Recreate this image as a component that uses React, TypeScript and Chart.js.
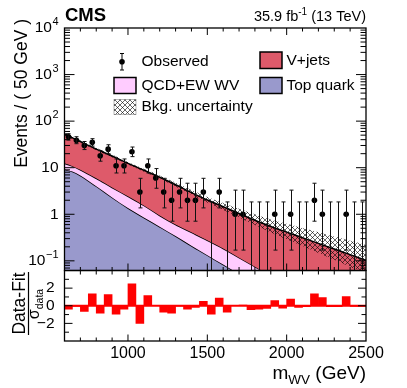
import React, { useEffect, useRef } from "react";
import { Chart, registerables } from "chart.js";

Chart.register(...registerables);

// ---------- data ----------
const binCenters = [625, 675, 725, 775, 825, 875, 925, 975, 1025, 1075, 1125, 1175, 1225, 1275, 1325, 1375, 1425, 1475, 1525, 1575, 1625, 1675, 1725, 1775, 1825, 1875, 1925, 1975, 2025, 2075, 2125, 2175, 2225, 2275, 2325, 2375, 2425, 2475];
const observed = [46, 39, 30, 35, 18, 25, 11, 11, 22, 3, 11, 6, 3, 2, 3, 2, 2, 3, 0, 3, 0, 1, 1, 0, 0, 0, 1, 0, 1, 0, 0, 2, 1, 0, 0, 1, 0, 0];
const obsLow = [39.2, 32.8, 24.5, 29.1, 13.8, 20.0, 7.7, 7.7, 17.3, 1.37, 7.7, 3.62, 1.37, 0.71, 1.37, 0.71, 0.71, 1.37, 0, 1.37, 0, 0.17, 0.17, 0, 0, 0, 0.17, 0, 0.17, 0, 0, 0.71, 0.17, 0, 0, 0.17, 0, 0];
const obsHigh = [53.8, 46.3, 36.5, 42.0, 23.3, 31.1, 15.4, 15.4, 27.8, 5.92, 15.4, 9.58, 5.92, 4.64, 5.92, 4.64, 4.64, 5.92, 1.84, 5.92, 1.84, 3.3, 3.3, 1.84, 1.84, 1.84, 3.3, 1.84, 3.3, 1.84, 1.84, 4.64, 3.3, 1.84, 1.84, 3.3, 1.84, 1.84];
const pulls = [-0.38, -0.08, -0.65, 1.35, -0.85, 1.27, -0.96, -0.38, 2.5, -2.0, 1.15, 0.03, -0.73, -0.85, -0.05, -0.38, -0.2, 0.5, -0.96, 0.88, -0.73, 0.05, 0.07, -0.45, -0.38, -0.3, 0.58, -0.27, 0.77, -0.2, -0.1, 1.35, 0.92, -0.1, -0.1, 1.04, -0.08, -0.08];

const fitGrid = [600, 650, 700, 800, 900, 1000, 1100, 1200, 1300, 1400, 1500, 1600, 1700, 1800, 1900, 2000, 2100, 2200, 2300, 2400, 2500];
const topQuarkCurve = [9.2, 8.3, 6.8, 4.0, 2.3, 1.36, 0.85, 0.54, 0.34, 0.21, 0.132, 0.083, 0.052, 0.033, 0.021, 0.013, 0.0083, 0.0053, 0.0033, 0.0021, 0.0013];
const wvStackCurve = [12.4, 10.8, 9.0, 5.9, 3.76, 2.43, 1.55, 0.94, 0.6, 0.41, 0.275, 0.184, 0.117, 0.075, 0.048, 0.03, 0.019, 0.012, 0.0077, 0.0049, 0.0031];
const vjetsStackCurve = [53.7, 43.6, 36.3, 25.1, 17.8, 12.4, 8.81, 6.24, 4.31, 2.92, 2.02, 1.45, 1.04, 0.746, 0.546, 0.413, 0.313, 0.237, 0.179, 0.136, 0.102];
const bkgUncUp = [58.9, 47.3, 38.9, 26.9, 19.1, 13.3, 9.55, 6.84, 4.79, 3.31, 2.35, 1.75, 1.31, 0.995, 0.771, 0.625, 0.507, 0.411, 0.333, 0.27, 0.219];
const bkgUncDown = [49.7, 40.7, 34.2, 23.7, 16.7, 11.7, 8.2, 5.77, 3.95, 2.62, 1.78, 1.24, 0.857, 0.585, 0.407, 0.29, 0.207, 0.148, 0.105, 0.075, 0.054];

const yDecades = [-1, 0, 1, 2, 3, 4];
const xTickLabels = [1000, 1500, 2000, 2500];
const ratioTickLabels = [-2, 0, 2];

// ---------- style ----------
const FONT = '"Liberation Sans", Arial, Helvetica, sans-serif';
const C_VJETS = "rgb(222,90,106)";
const C_WV = "rgb(255,204,255)";
const C_TOP = "rgb(153,153,204)";
const C_RATIO = "#ff0000";

function line(ctx: CanvasRenderingContext2D, x1: number, y1: number, x2: number, y2: number) {
  ctx.beginPath();
  ctx.moveTo(x1, y1);
  ctx.lineTo(x2, y2);
  ctx.stroke();
}

function drawXTicks(ctx: CanvasRenderingContext2D, xs: any, a: any, majB: number, minB: number, majT: number, minT: number) {
  for (let v = 600; v <= 2500; v += 100) {
    const px = xs.getPixelForValue(v);
    if (px <= a.left + 0.5 || px >= a.right - 0.5) continue;
    const major = v % 500 === 0;
    line(ctx, px, a.bottom, px, a.bottom - (major ? majB : minB));
    line(ctx, px, a.top, px, a.top + (major ? majT : minT));
  }
}

const mainDecor = {
  id: "mainDecor",
  afterDatasetsDraw(chart: any) {
    const ctx: CanvasRenderingContext2D = chart.ctx;
    const xs = chart.scales.x;
    const ys = chart.scales.y;
    const a = chart.chartArea;
    ctx.save();
    ctx.strokeStyle = "#111";
    ctx.lineWidth = 1;
    for (let i = 0; i < binCenters.length; i++) {
      const px = Math.round(xs.getPixelForValue(binCenters[i])) + 0.5;
      const top = ys.getPixelForValue(obsHigh[i]);
      const hasLow = obsLow[i] > 0;
      const bot = hasLow ? Math.min(ys.getPixelForValue(obsLow[i]), a.bottom) : a.bottom;
      line(ctx, px, top, px, bot);
      line(ctx, px - 2, top, px + 2, top);
      if (hasLow) line(ctx, px - 2, bot, px + 2, bot);
    }
    ctx.restore();
  },
  afterDraw(chart: any) {
    const ctx: CanvasRenderingContext2D = chart.ctx;
    const xs = chart.scales.x;
    const ys = chart.scales.y;
    const a = chart.chartArea;
    const hatch = chart.options.plugins.mainDecor.hatch;
    ctx.save();
    ctx.strokeStyle = "#000";
    ctx.lineWidth = 1.3;
    ctx.strokeRect(a.left, a.top, a.right - a.left, a.bottom - a.top);
    ctx.lineWidth = 1;
    // y ticks (log)
    for (let d = -2; d <= 4; d++) {
      for (let m = 1; m <= 9; m++) {
        const v = m * Math.pow(10, d);
        if (v < ys.min || v > ys.max) continue;
        const py = ys.getPixelForValue(v);
        if (py <= a.top + 0.5 || py >= a.bottom - 0.5) continue;
        const len = m === 1 ? 10 : 5.5;
        line(ctx, a.left, py, a.left + len, py);
        line(ctx, a.right, py, a.right - len, py);
      }
    }
    drawXTicks(ctx, xs, a, 7, 3.5, 7, 3.5);

    // y tick labels
    ctx.fillStyle = "#000";
    ctx.textBaseline = "middle";
    ctx.textAlign = "right";
    const xr = a.left - 6;
    for (const d of yDecades) {
      const py = ys.getPixelForValue(Math.pow(10, d));
      if (d === 0 || d === 1) {
        ctx.font = `15.5px ${FONT}`;
        ctx.fillText(d === 0 ? "1" : "10", xr, py);
      } else {
        const sup = d < 0 ? "\u2212" + -d : String(d);
        ctx.font = `11px ${FONT}`;
        const sw = ctx.measureText(sup).width;
        ctx.fillText(sup, xr, py - 6);
        ctx.font = `15.5px ${FONT}`;
        ctx.fillText("10", xr - sw - 0.5, py);
      }
    }

    // y title
    ctx.save();
    ctx.translate(22, 19);
    ctx.rotate(-Math.PI / 2);
    ctx.font = `17.5px ${FONT}`;
    ctx.textAlign = "right";
    ctx.textBaseline = "middle";
    ctx.fillText("Events / ( 50 GeV )", 0, 0);
    ctx.restore();

    // CMS + lumi
    ctx.textBaseline = "alphabetic";
    ctx.textAlign = "left";
    ctx.font = `bold 18.5px ${FONT}`;
    ctx.fillText("CMS", 65, 20.5);
    ctx.font = `14.5px ${FONT}`;
    const p1 = "35.9 fb";
    const p3 = " (13 TeV)";
    const w1 = ctx.measureText(p1).width;
    const w3 = ctx.measureText(p3).width;
    ctx.font = `10px ${FONT}`;
    const p2 = "-1";
    const w2 = ctx.measureText(p2).width;
    let sx = a.right - (w1 + w2 + w3);
    ctx.font = `14.5px ${FONT}`;
    ctx.fillText(p1, sx, 20.5);
    ctx.font = `10px ${FONT}`;
    ctx.fillText(p2, sx + w1, 14.5);
    ctx.font = `14.5px ${FONT}`;
    ctx.fillText(p3, sx + w1 + w2, 20.5);

    // legend
    ctx.font = `15.5px ${FONT}`;
    ctx.textBaseline = "middle";
    ctx.textAlign = "left";
    // observed
    ctx.strokeStyle = "#000";
    ctx.lineWidth = 1;
    line(ctx, 122, 53.5, 122, 70);
    line(ctx, 120, 53.5, 124, 53.5);
    line(ctx, 120, 70, 124, 70);
    ctx.beginPath();
    ctx.arc(122, 61.7, 2.8, 0, Math.PI * 2);
    ctx.fill();
    ctx.fillText("Observed", 141.5, 61.5);
    const box = (x: number, y: number, w: number, h: number, fill: any, border: boolean) => {
      ctx.fillStyle = fill;
      ctx.fillRect(x, y, w, h);
      if (border) {
        ctx.strokeStyle = "#000";
        ctx.lineWidth = 1.5;
        ctx.strokeRect(x, y, w, h);
      }
      ctx.fillStyle = "#000";
    };
    box(260, 52, 22, 16.5, C_VJETS, true);
    ctx.fillText("V+jets", 286.5, 61);
    box(114, 77.5, 22, 16, C_WV, true);
    ctx.fillText("QCD+EW WV", 141.5, 85.5);
    box(260, 77.5, 22, 16, C_TOP, true);
    ctx.fillText("Top quark", 286.5, 85.5);
    box(114, 99.5, 22, 15, hatch, false);
    ctx.strokeStyle = "rgba(0,0,0,0.35)";
    ctx.lineWidth = 0.8;
    ctx.strokeRect(114, 99.5, 22, 15);
    ctx.fillText("Bkg. uncertainty", 141.5, 107);
    ctx.restore();
  },
};

const ratioDecor = {
  id: "ratioDecor",
  afterDraw(chart: any) {
    const ctx: CanvasRenderingContext2D = chart.ctx;
    const xs = chart.scales.x;
    const ys = chart.scales.y;
    const a = chart.chartArea;
    ctx.save();
    ctx.strokeStyle = "#000";
    ctx.lineWidth = 1.3;
    ctx.strokeRect(a.left, a.top, a.right - a.left, a.bottom - a.top);
    ctx.lineWidth = 1;
    for (let v = -3; v <= 3; v++) {
      const py = ys.getPixelForValue(v);
      const len = v % 2 === 0 ? 8 : 4.5;
      line(ctx, a.left, py, a.left + len, py);
      line(ctx, a.right, py, a.right - len, py);
    }
    drawXTicks(ctx, xs, a, 6.5, 3.5, 6.5, 4);

    ctx.fillStyle = "#000";
    ctx.font = `15.5px ${FONT}`;
    ctx.textAlign = "right";
    ctx.textBaseline = "middle";
    for (const v of ratioTickLabels) {
      ctx.fillText(v < 0 ? "\u2212" + -v : String(v), a.left - 10, ys.getPixelForValue(v));
    }
    ctx.textAlign = "center";
    ctx.font = `16px ${FONT}`;
    for (const v of xTickLabels) {
      ctx.fillText(String(v), xs.getPixelForValue(v), 354);
    }

    // x title
    ctx.textAlign = "left";
    ctx.textBaseline = "alphabetic";
    ctx.font = `19px ${FONT}`;
    const wm = ctx.measureText("m").width;
    const wg = ctx.measureText(" (GeV)").width;
    ctx.font = `13.5px ${FONT}`;
    const ws = ctx.measureText("WV").width;
    let x0 = a.right - (wm + ws + wg);
    ctx.font = `19px ${FONT}`;
    ctx.fillText("m", x0, 379);
    ctx.font = `13.5px ${FONT}`;
    ctx.fillText("WV", x0 + wm, 384);
    ctx.font = `19px ${FONT}`;
    ctx.fillText(" (GeV)", x0 + wm + ws, 379);

    // ratio title
    ctx.save();
    ctx.translate(20, 303.5);
    ctx.rotate(-Math.PI / 2);
    ctx.font = `17.5px ${FONT}`;
    ctx.textAlign = "center";
    ctx.textBaseline = "middle";
    ctx.fillText("Data-Fit", 0, 0);
    ctx.restore();
    ctx.lineWidth = 1.2;
    line(ctx, 28.5, 272, 28.5, 335);
    ctx.save();
    ctx.translate(36, 304);
    ctx.rotate(-Math.PI / 2);
    ctx.textBaseline = "middle";
    ctx.textAlign = "left";
    ctx.font = `16px ${FONT}`;
    const wsig = ctx.measureText("\u03c3").width;
    ctx.font = `10.5px ${FONT}`;
    const wdat = ctx.measureText("data").width;
    const st = -(wsig + wdat) / 2;
    ctx.font = `16px ${FONT}`;
    ctx.fillText("\u03c3", st, -1);
    ctx.font = `10.5px ${FONT}`;
    ctx.fillText("data", st + wsig, 4);
    ctx.restore();
    ctx.restore();
  },
};

export default function App() {
  const mainRef = useRef<HTMLCanvasElement>(null);
  const ratioRef = useRef<HTMLCanvasElement>(null);

  useEffect(() => {
    const mainCanvas = mainRef.current!;
    const tile = document.createElement("canvas");
    tile.width = 5;
    tile.height = 5;
    const tg = tile.getContext("2d")!;
    tg.strokeStyle = "rgba(0,0,0,0.75)";
    tg.lineWidth = 0.8;
    tg.beginPath();
    tg.moveTo(-1, -1);
    tg.lineTo(6, 6);
    tg.moveTo(-1, 6);
    tg.lineTo(6, -1);
    tg.stroke();
    const hatch: any = mainCanvas.getContext("2d")!.createPattern(tile, "repeat") || "rgba(0,0,0,0.3)";

    const curve = (ys: number[]) => fitGrid.map((x, i) => ({ x, y: ys[i] }));

    const main = new Chart(mainCanvas, {
      type: "line",
      data: {
        datasets: [
          {
            label: "Observed",
            data: binCenters.map((x, i) => ({ x, y: observed[i] > 0 ? observed[i] : null })) as any,
            showLine: false,
            pointRadius: 2.8,
            pointBackgroundColor: "#000",
            pointBorderWidth: 0,
            order: 0,
          },
          {
            label: "Bkg. uncertainty",
            data: curve(bkgUncUp),
            borderWidth: 0,
            pointRadius: 0,
            fill: "+1",
            backgroundColor: hatch,
            cubicInterpolationMode: "monotone",
            order: 1,
          },
          {
            label: "unc-low",
            data: curve(bkgUncDown),
            borderWidth: 0,
            pointRadius: 0,
            fill: false,
            cubicInterpolationMode: "monotone",
            order: 1,
          },
          {
            label: "V+jets",
            data: curve(vjetsStackCurve),
            borderColor: "#000",
            borderWidth: 1.5,
            backgroundColor: C_VJETS,
            pointRadius: 0,
            fill: "+1",
            cubicInterpolationMode: "monotone",
            order: 2,
          },
          {
            label: "QCD+EW WV",
            data: curve(wvStackCurve),
            borderColor: "#000",
            borderWidth: 1.5,
            backgroundColor: C_WV,
            pointRadius: 0,
            fill: "+1",
            cubicInterpolationMode: "monotone",
            order: 3,
          },
          {
            label: "Top quark",
            data: curve(topQuarkCurve),
            borderColor: "#000",
            borderWidth: 1.5,
            backgroundColor: C_TOP,
            pointRadius: 0,
            fill: "start",
            cubicInterpolationMode: "monotone",
            order: 4,
          },
        ],
      },
      options: {
        responsive: false,
        animation: false,
        devicePixelRatio: 1,
        events: [],
        layout: { padding: { left: 64.5, top: 28, right: 41, bottom: 117.5 }, autoPadding: false } as any,
        plugins: { legend: { display: false }, tooltip: { enabled: false }, mainDecor: { hatch } } as any,
        scales: {
          x: { type: "linear", min: 600, max: 2500, display: false },
          y: { type: "logarithmic", min: 0.062, max: 10000, display: false },
        },
      },
      plugins: [mainDecor],
    });

    const ratio = new Chart(ratioRef.current!, {
      type: "bar",
      data: {
        datasets: [
          {
            type: "line",
            label: "zero",
            data: [
              { x: 600, y: 0 },
              { x: 2500, y: 0 },
            ],
            borderColor: C_RATIO,
            borderWidth: 2,
            pointRadius: 0,
            order: 0,
          } as any,
          {
            type: "bar",
            label: "pull",
            data: binCenters.map((x, i) => ({ x, y: pulls[i] })),
            backgroundColor: C_RATIO,
            borderWidth: 0,
            barPercentage: 1,
            categoryPercentage: 1,
            order: 1,
          } as any,
        ],
      },
      options: {
        responsive: false,
        animation: false,
        devicePixelRatio: 1,
        events: [],
        layout: { padding: { left: 64.5, top: 270.5, right: 41, bottom: 47 }, autoPadding: false } as any,
        plugins: { legend: { display: false }, tooltip: { enabled: false } },
        scales: {
          x: { type: "linear", min: 600, max: 2500, display: false, offset: false },
          y: { type: "linear", min: -4, max: 4, display: false },
        },
      },
      plugins: [ratioDecor],
    });

    return () => {
      main.destroy();
      ratio.destroy();
    };
  }, []);

  const cs: React.CSSProperties = { position: "absolute", left: 0, top: 0, width: 407, height: 388 };
  return (
    <div style={{ position: "absolute", left: 0, top: 0, width: 407, height: 388, background: "#fff" }}>
      <canvas ref={mainRef} width={407} height={388} style={cs} />
      <canvas ref={ratioRef} width={407} height={388} style={cs} />
    </div>
  );
}
